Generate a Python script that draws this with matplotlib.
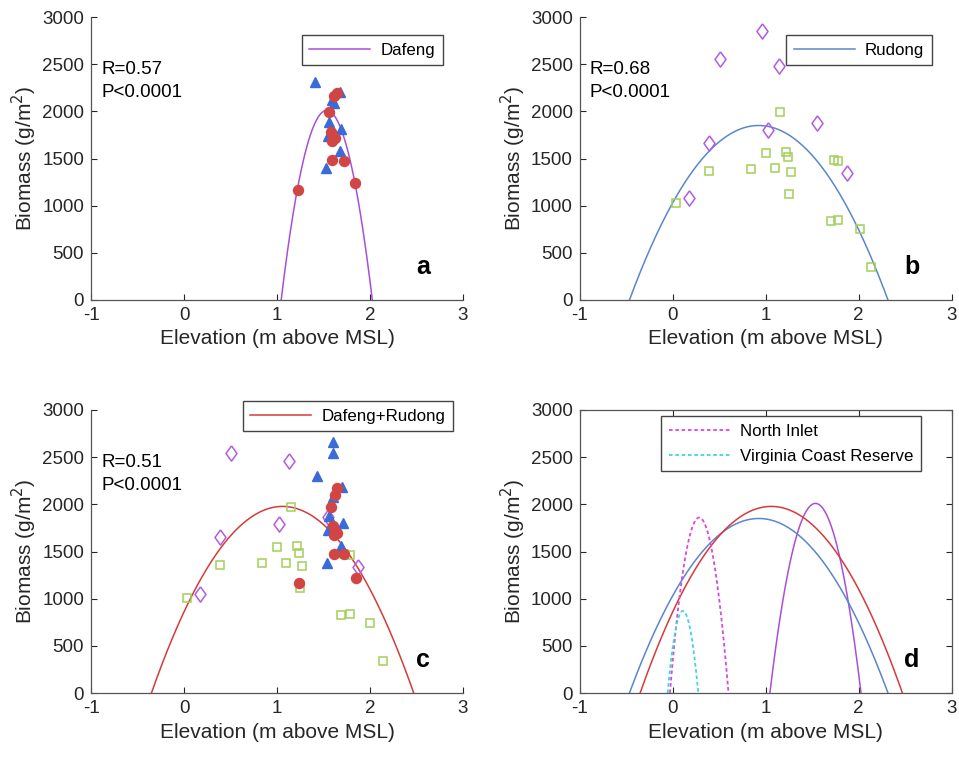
import numpy as np
import matplotlib.pyplot as plt

plt.rcParams['font.family'] = ['Liberation Sans', 'DejaVu Sans']
plt.rcParams['axes.unicode_minus'] = False

# panel a - Dafeng
a_tri_x = [1.41, 1.68, 1.59, 1.61, 1.56, 1.69, 1.55, 1.68, 1.53]
a_tri_y = [2315, 2200, 2120, 2090, 1890, 1813, 1740, 1583, 1403]
a_circ_x = [1.64, 1.61, 1.56, 1.58, 1.62, 1.59, 1.59, 1.72, 1.23, 1.84]
a_circ_y = [2190, 2160, 1997, 1785, 1714, 1686, 1485, 1477, 1166, 1237]

# panel b - Rudong
b_dia_x = [0.51, 0.96, 1.14, 1.55, 1.02, 0.39, 1.87, 0.17]
b_dia_y = [2556, 2856, 2485, 1874, 1803, 1668, 1343, 1078]
b_sq_x = [1.15, 1.00, 1.22, 1.24, 0.39, 0.84, 1.10, 1.27, 1.73, 1.78, 1.25, 0.04, 1.70, 1.78, 2.01, 2.13]
b_sq_y = [1997, 1556, 1573, 1513, 1371, 1389, 1403, 1361, 1485, 1477, 1124, 1025, 841, 848, 750, 353]

# panel c - Dafeng+Rudong
c_tri_x = [1.60, 1.60, 1.43, 1.70, 1.60, 1.71, 1.55, 1.69, 1.54, 1.56]
c_tri_y = [2658, 2542, 2305, 2188, 2082, 1800, 1729, 1562, 1382, 1880]
c_circ_x = [1.64, 1.62, 1.58, 1.60, 1.62, 1.61, 1.64, 1.61, 1.72, 1.85, 1.24]
c_circ_y = [2171, 2100, 1976, 1771, 1710, 1675, 1694, 1471, 1471, 1216, 1163]
c_dia_x = [0.51, 1.13, 1.02, 0.39, 0.17, 1.55, 1.87]
c_dia_y = [2542, 2463, 1789, 1658, 1050, 1863, 1340]
c_sq_x = [1.15, 1.00, 1.22, 1.24, 0.39, 0.84, 1.10, 1.27, 0.03, 1.25, 1.72, 1.78, 1.69, 1.78, 2.00, 2.14]
c_sq_y = [1976, 1545, 1559, 1488, 1361, 1375, 1379, 1347, 1007, 1110, 1471, 1463, 827, 834, 739, 343]

# quadratic fits: peak biomass, optimum elevation, half width of the parabola
fit_names = ['Dafeng', 'Rudong', 'Dafeng+Rudong', 'North Inlet', 'Virginia Coast Reserve']
fit_peak = [2010, 1850, 1978, 1860, 870]
fit_center = [1.535, 0.925, 1.06, 0.285, 0.11]
fit_half = [0.49, 1.39, 1.41, 0.315, 0.165]
fit_color = ['#a84fd6', '#5a86cc', '#d63a3a', '#d84ad8', '#3fd6dc']
fit_style = ['-', '-', '-', '--', '--']

stats = [('R=0.57', 'P<0.0001'), ('R=0.68', 'P<0.0001'), ('R=0.51', 'P<0.0001')]

blue = '#3a6bd9'
red = '#d24545'
green = '#a2d05a'
purple = '#b25ce0'
diamond = [(0, 1), (0.72, 0), (0, -1), (-0.72, 0), (0, 1)]


def fit_line(i, n=400):
    x = np.linspace(fit_center[i] - fit_half[i], fit_center[i] + fit_half[i], n)
    y = fit_peak[i] * (1 - ((x - fit_center[i]) / fit_half[i]) ** 2)
    return x, y


fig = plt.figure(figsize=(9.59, 7.57), dpi=100)
W, H = 959, 757
pos = {'a': (91, 17, 463, 300), 'b': (579.7, 17, 951.7, 300),
       'c': (91, 410, 463, 693), 'd': (579.7, 410, 951.7, 693)}
axes = {}
for k, (l, t, r, b) in pos.items():
    axes[k] = fig.add_axes([l / W, (H - b) / H, (r - l) / W, (b - t) / H])

for k, ax in axes.items():
    ax.set_xlim(-1, 3)
    ax.set_ylim(0, 3000)
    ax.set_xticks([-1, 0, 1, 2, 3])
    ax.set_yticks(np.arange(0, 3001, 500))
    ax.tick_params(direction='in', length=4, labelsize=13.5, colors='#262626', pad=5)
    for s in ax.spines.values():
        s.set_color('#555555')
        s.set_linewidth(0.9)
    if k != 'd':
        ax.spines['top'].set_visible(False)
        ax.spines['right'].set_visible(False)
    else:
        ax.tick_params(right=True, top=True)
    ax.set_xlabel('Elevation (m above MSL)', fontsize=15, color='#262626', labelpad=4)
    ax.set_ylabel('Biomass (g/m$^2$)', fontsize=15, color='#262626', labelpad=2)
    ax.text(2.57, 350, k, fontsize=18, fontweight='bold', ha='center', va='center')

leg_kw = dict(fontsize=12.2, fancybox=False, edgecolor='#444444', framealpha=1,
              handlelength=3.6, borderpad=0.45, handletextpad=0.6, borderaxespad=0)

# a
ax = axes['a']
x, y = fit_line(0)
ax.plot(x, y, color=fit_color[0], lw=1.1, label=fit_names[0])
ax.plot(a_tri_x, a_tri_y, '^', color=blue, ms=7.5, mec=blue, ls='none')
ax.plot(a_circ_x, a_circ_y, 'o', color=red, ms=7.2, mec=red, ls='none')
ax.legend(loc='upper right', bbox_to_anchor=(0.946, 0.936), **leg_kw)

# b
ax = axes['b']
x, y = fit_line(1)
ax.plot(x, y, color=fit_color[1], lw=1.1, label=fit_names[1])
ax.plot(b_sq_x, b_sq_y, 's', mfc='none', mec=green, ms=6, mew=1.1, ls='none')
ax.plot(b_dia_x, b_dia_y, marker=diamond, mfc='none', mec=purple, ms=11, mew=1.1, ls='none')
ax.legend(loc='upper right', bbox_to_anchor=(0.946, 0.936), **leg_kw)

# c
ax = axes['c']
x, y = fit_line(2)
ax.plot(x, y, color=fit_color[2], lw=1.1, label=fit_names[2])
ax.plot(c_sq_x, c_sq_y, 's', mfc='none', mec=green, ms=6, mew=1.1, ls='none')
ax.plot(c_dia_x, c_dia_y, marker=diamond, mfc='none', mec=purple, ms=11, mew=1.1, ls='none')
ax.plot(c_tri_x, c_tri_y, '^', color=blue, ms=7.5, mec=blue, ls='none')
ax.plot(c_circ_x, c_circ_y, 'o', color=red, ms=7.2, mec=red, ls='none')
ax.legend(loc='upper right', bbox_to_anchor=(0.973, 1.032), **leg_kw)

for k, (r_txt, p_txt) in zip(['a', 'b', 'c'], stats):
    axes[k].text(-0.89, 2440, r_txt, fontsize=13.5, va='center')
    axes[k].text(-0.89, 2195, p_txt, fontsize=13.5, va='center')

# d
ax = axes['d']
hs = []
for i in [0, 1, 2, 3, 4]:
    x, y = fit_line(i)
    h, = ax.plot(x, y, color=fit_color[i], ls=fit_style[i], lw=1.3 if i > 2 else 1.1,
                 dashes=(2, 1.5) if i > 2 else (None, None))
    hs.append(h)
ax.legend(hs[3:], fit_names[3:], loc='upper right', bbox_to_anchor=(0.9175, 0.979),
          labelspacing=0.6, **leg_kw)

fig.savefig('out.png', dpi=100)
